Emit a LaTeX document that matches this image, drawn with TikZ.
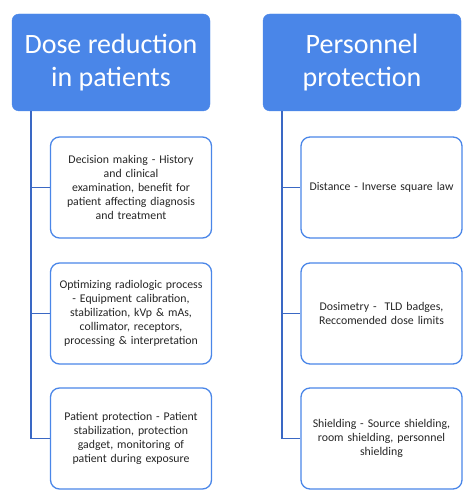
\documentclass[tikz,border=0pt]{standalone}
\usepackage{fontspec}
\setmainfont{Carlito}
\usetikzlibrary{positioning}
\definecolor{headblue}{RGB}{74,134,232}
\definecolor{linkblue}{RGB}{58,104,196}
\tikzset{
  header/.style={rectangle, rounded corners=7pt, fill=headblue, draw=headblue,
    text=white, minimum width=198pt, minimum height=97pt, align=center,
    font=\fontsize{28}{33}\selectfont},
  itembox/.style={rectangle, rounded corners=9pt, draw=headblue, line width=1.3pt,
    fill=white, minimum width=161pt, minimum height=101pt, text width=160pt,
    inner xsep=0pt, align=center, text=black!85, font=\fontsize{11.8}{14.2}\selectfont},
  trunk/.style={draw=linkblue, line width=1.4pt}
}
\begin{document}
\begin{tikzpicture}[x=1pt,y=1pt]
        \useasboundingbox (0,0) rectangle (474,503);
        % left column
        \node[header] (hdose) at (111,440.5) {Dose reduction\\in patients};
        \node[itembox] (d1) at (131,315.5) {Decision making - History\\and clinical\\examination, benefit for\\patient affecting diagnosis\\and treatment};
        \node[itembox] (d2) at (131,189.5) {Optimizing radiologic process\\- Equipment calibration,\\stabilization, kVp \& mAs,\\collimator, receptors,\\processing \& interpretation};
        \node[itembox] (d3) at (131,64.5) {Patient protection - Patient\\stabilization, protection\\gadget, monitoring of\\patient during exposure};
        \coordinate (dtop) at ([xshift=19pt]hdose.south west);
        \draw[trunk] (dtop) |- (d3.west);
        \draw[trunk] (dtop) |- (d1.west);
        \draw[trunk] (dtop) |- (d2.west);
        % right column
        \node[header] (hpers) at (362,440.5) {Personnel\\protection};
        \node[itembox] (p1) at (381.5,315.5) {Distance - Inverse square law};
        \node[itembox] (p2) at (381.5,189.5) {Dosimetry -~ TLD badges,\\Reccomended dose limits};
        \node[itembox] (p3) at (381.5,64.5) {Shielding - Source shielding,\\room shielding, personnel\\shielding};
        \coordinate (ptop) at ([xshift=19pt]hpers.south west);
        \draw[trunk] (ptop) |- (p3.west);
        \draw[trunk] (ptop) |- (p1.west);
        \draw[trunk] (ptop) |- (p2.west);
\end{tikzpicture}
\end{document}
